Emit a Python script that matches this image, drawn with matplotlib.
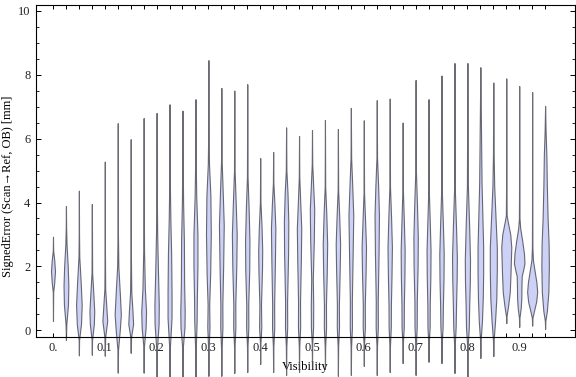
import numpy as np
import matplotlib
matplotlib.use("Agg")
import matplotlib.pyplot as plt

plt.rcParams["font.family"] = ["Liberation Serif", "DejaVu Serif"]

# violin centres (visibility bins)
visibility = [0.0, 0.025, 0.05, 0.075, 0.1, 0.125, 0.15, 0.175, 0.2, 0.225,
              0.25, 0.275, 0.3, 0.325, 0.35, 0.375, 0.4, 0.425, 0.45, 0.475,
              0.5, 0.525, 0.55, 0.575, 0.6, 0.625, 0.65, 0.675, 0.7, 0.725,
              0.75, 0.775, 0.8, 0.825, 0.85, 0.875, 0.9, 0.925, 0.95]

# per-violin density outline: (signed error [mm], relative density)
profiles = [
    [(0.30, 0), (1.2, 0.04), (1.5, 0.25), (1.85, 0.4), (2.2, 0.25), (2.5, 0.04), (2.93, 0)],
    [(-0.30, 0), (0.2, 0.08), (0.8, 0.4), (1.4, 0.48), (2.0, 0.36), (2.7, 0.12), (3.2, 0.04), (3.89, 0)],
    [(-0.78, 0), (-0.3, 0.04), (0.2, 0.42), (0.8, 0.56), (1.5, 0.36), (2.3, 0.08), (3.0, 0.03), (4.37, 0)],
    [(-0.76, 0), (-0.3, 0.04), (0.2, 0.4), (0.6, 0.48), (1.2, 0.28), (1.8, 0.06), (3.95, 0)],
    [(-0.79, 0), (-0.2, 0.08), (0.3, 0.48), (0.7, 0.32), (1.3, 0.08), (2.5, 0.03), (5.28, 0)],
    [(-1.32, 0), (-0.6, 0.06), (0.0, 0.4), (0.5, 0.62), (1.2, 0.4), (2.0, 0.12), (3.0, 0.04), (6.48, 0)],
    [(-0.70, 0), (-0.2, 0.08), (0.2, 0.48), (0.6, 0.36), (1.2, 0.12), (2.5, 0.03), (5.98, 0)],
    [(-1.32, 0), (-0.5, 0.06), (0.1, 0.4), (0.6, 0.48), (1.3, 0.24), (2.5, 0.08), (4.0, 0.03), (6.64, 0)],
    [(-1.50, 0), (-0.6, 0.06), (0.2, 0.4), (0.8, 0.44), (1.8, 0.28), (3.0, 0.12), (4.5, 0.03), (6.80, 0)],
    [(-1.50, 0), (-0.5, 0.08), (0.4, 0.4), (1.2, 0.4), (2.4, 0.32), (3.5, 0.16), (5.0, 0.03), (7.07, 0)],
    [(-1.50, 0), (-0.5, 0.08), (0.1, 0.4), (0.6, 0.44), (1.5, 0.32), (2.8, 0.28), (4.0, 0.12), (5.5, 0.03), (6.87, 0)],
    [(-1.50, 0), (-0.5, 0.08), (0.3, 0.24), (1.0, 0.28), (2.0, 0.4), (3.0, 0.4), (4.2, 0.16), (5.5, 0.03), (7.23, 0)],
    [(-1.42, 0), (-0.6, 0.05), (0.1, 0.22), (0.8, 0.16), (1.8, 0.36), (3.0, 0.48), (4.2, 0.4), (5.2, 0.12), (6.2, 0.03), (8.45, 0)],
    [(-1.42, 0), (-0.6, 0.05), (0.1, 0.22), (0.8, 0.2), (2.0, 0.36), (3.3, 0.48), (4.3, 0.28), (5.3, 0.06), (7.58, 0)],
    [(-1.33, 0), (-0.5, 0.05), (0.1, 0.22), (0.8, 0.2), (2.0, 0.4), (3.0, 0.48), (4.0, 0.28), (5.0, 0.06), (7.50, 0)],
    [(-1.30, 0), (-0.5, 0.05), (0.1, 0.22), (0.8, 0.2), (1.9, 0.4), (2.8, 0.44), (3.8, 0.28), (4.8, 0.06), (7.70, 0)],
    [(-1.05, 0), (-0.4, 0.05), (0.1, 0.22), (0.8, 0.16), (1.9, 0.36), (2.5, 0.4), (3.2, 0.28), (4.0, 0.06), (5.39, 0)],
    [(-1.30, 0), (-0.5, 0.05), (0.1, 0.22), (0.8, 0.2), (2.2, 0.36), (3.2, 0.44), (4.0, 0.24), (4.6, 0.05), (5.58, 0)],
    [(-1.39, 0), (-0.5, 0.05), (0.1, 0.22), (0.9, 0.2), (2.4, 0.4), (3.4, 0.44), (4.3, 0.28), (5.0, 0.06), (6.35, 0)],
    [(-1.30, 0), (-0.5, 0.05), (0.1, 0.22), (0.9, 0.2), (2.2, 0.36), (3.2, 0.44), (4.0, 0.24), (4.8, 0.05), (6.08, 0)],
    [(-1.14, 0), (-0.4, 0.05), (0.1, 0.22), (0.8, 0.24), (1.6, 0.16), (2.8, 0.36), (3.8, 0.44), (4.5, 0.24), (5.2, 0.05), (6.26, 0)],
    [(-1.20, 0), (-0.5, 0.05), (0.1, 0.22), (0.8, 0.2), (1.8, 0.36), (2.7, 0.44), (3.6, 0.28), (4.5, 0.05), (6.58, 0)],
    [(-1.42, 0), (-0.5, 0.05), (0.1, 0.22), (0.8, 0.2), (1.9, 0.36), (2.7, 0.44), (3.5, 0.28), (4.4, 0.05), (6.30, 0)],
    [(-1.39, 0), (-0.5, 0.05), (0.1, 0.22), (0.9, 0.2), (2.4, 0.36), (3.6, 0.48), (4.5, 0.28), (5.4, 0.06), (6.96, 0)],
    [(-1.11, 0), (-0.4, 0.05), (0.1, 0.22), (0.8, 0.2), (1.8, 0.36), (2.6, 0.44), (3.5, 0.24), (4.3, 0.05), (6.57, 0)],
    [(-1.39, 0), (-0.5, 0.05), (0.1, 0.22), (0.9, 0.2), (2.4, 0.36), (3.6, 0.44), (4.5, 0.28), (5.4, 0.06), (7.20, 0)],
    [(-1.30, 0), (-0.5, 0.05), (0.1, 0.22), (0.8, 0.24), (1.7, 0.36), (2.6, 0.44), (3.5, 0.28), (4.5, 0.06), (7.25, 0)],
    [(-1.02, 0), (-0.4, 0.05), (0.1, 0.22), (0.8, 0.24), (1.7, 0.36), (2.5, 0.4), (3.4, 0.24), (4.4, 0.05), (6.50, 0)],
    [(-1.39, 0), (-0.5, 0.05), (0.1, 0.22), (0.9, 0.24), (2.0, 0.4), (2.9, 0.44), (3.9, 0.28), (5.0, 0.06), (7.83, 0)],
    [(-0.98, 0), (-0.4, 0.05), (0.1, 0.22), (0.8, 0.24), (1.7, 0.36), (2.5, 0.4), (3.4, 0.24), (4.4, 0.05), (7.23, 0)],
    [(-1.02, 0), (-0.4, 0.05), (0.1, 0.22), (0.8, 0.28), (1.6, 0.4), (2.4, 0.44), (3.3, 0.28), (4.4, 0.06), (7.97, 0)],
    [(-1.33, 0), (-0.5, 0.05), (0.1, 0.24), (0.8, 0.32), (1.6, 0.44), (2.3, 0.48), (3.2, 0.32), (4.4, 0.08), (8.36, 0)],
    [(-1.45, 0), (-0.5, 0.05), (0.1, 0.28), (0.8, 0.36), (1.5, 0.48), (2.2, 0.52), (3.2, 0.36), (4.5, 0.1), (8.36, 0)],
    [(-0.86, 0), (-0.3, 0.06), (0.3, 0.32), (1.0, 0.48), (1.8, 0.56), (2.6, 0.56), (3.6, 0.4), (4.6, 0.24), (5.8, 0.16), (7.0, 0.08), (8.23, 0)],
    [(-0.80, 0), (-0.3, 0.07), (0.3, 0.35), (1.0, 0.6), (1.9, 0.7), (2.6, 0.7), (3.5, 0.45), (4.5, 0.18), (5.5, 0.07), (7.75, 0)],
    [(0.23, 0), (0.45, 0.05), (0.75, 0.35), (1.2, 0.7), (1.8, 0.85), (2.6, 1.0), (3.0, 0.8), (3.4, 0.3), (3.6, 0.08), (4.5, 0.03), (7.88, 0)],
    [(0.11, 0), (0.4, 0.05), (0.7, 0.3), (1.0, 0.42), (1.4, 0.45), (1.7, 0.5), (1.9, 0.8), (2.1, 1.05), (2.4, 0.95), (2.8, 0.6), (3.2, 0.2), (3.5, 0.06), (4.5, 0.03), (7.64, 0)],
    [(0.15, 0), (0.4, 0.06), (0.6, 0.35), (0.9, 0.8), (1.2, 1.0), (1.5, 0.85), (1.9, 0.45), (2.2, 0.15), (2.6, 0.05), (3.5, 0.03), (7.45, 0)],
    [(0.05, 0), (0.3, 0.05), (0.6, 0.35), (1.2, 0.65), (2.0, 0.75), (2.7, 0.7), (3.5, 0.5), (4.5, 0.35), (5.5, 0.25), (6.2, 0.1), (7.02, 0)],
]

label_at = [0.0, 0.1, 0.2, 0.3, 0.4, 0.5, 0.6, 0.7, 0.8, 0.9]
label_text = ["0.", "0.1", "0.2", "0.3", "0.4", "0.5", "0.6", "0.7", "0.8", "0.9"]

HALF_W = 0.0097          # half-width (data units) of a density of 1
FILL = (0.80, 0.82, 0.96)
EDGE = (0.28, 0.28, 0.32, 0.8)

fig = plt.figure(figsize=(5.76, 3.77), dpi=100)
ax = fig.add_axes([36 / 576, 0, 539 / 576, 372.5 / 377])

for x, prof in zip(visibility, profiles):
    y = np.array([p[0] for p in prof])
    d = np.array([p[1] for p in prof]) * HALF_W
    ax.fill_betweenx(y, x - d, x + d, facecolor=FILL, edgecolor=EDGE, lw=0.8, zorder=2)

ax.set_xlim(-0.0328, 1.0077)
ax.set_ylim(-1.455, 10.19)

# Mathematica-like frame: axis line at the bottom, frame left/top/right
ax.spines["bottom"].set_position(("data", -0.2))
ax.spines["left"].set_bounds(-0.2, 10.19)
ax.spines["right"].set_bounds(-0.2, 10.19)
for s in ax.spines.values():
    s.set_linewidth(0.8)
    s.set_zorder(3)

ticklabels = []
for v in visibility:
    hit = [t for a, t in zip(label_at, label_text) if np.isclose(v, a)]
    ticklabels.append(hit[0] if hit else "")
ax.set_xticks(visibility)
ax.set_xticklabels(ticklabels)
ax.set_yticks([0, 2, 4, 6, 8, 10])
ax.set_yticks([0.5, 1, 1.5, 2.5, 3, 3.5, 4.5, 5, 5.5, 6.5, 7, 7.5, 8.5, 9, 9.5], minor=True)

ax.tick_params(axis="x", which="major", direction="in", length=3.2, width=0.7,
               top=True, bottom=True, labelsize=9, pad=4, labelcolor="#222222")
ax.tick_params(axis="y", which="major", direction="in", length=3.4, width=0.7,
               left=True, right=True, labelsize=9, pad=4, labelcolor="#222222")
ax.tick_params(axis="y", which="minor", direction="in", length=1.9, width=0.6,
               left=True, right=True)

ax.set_xlabel("Visibility", fontsize=9)
ax.xaxis.set_label_coords(0.5, 0.042)
ax.set_ylabel("SignedError (Scan\u2192Ref, OB) [mm]", fontsize=9)
ax.yaxis.set_label_coords(-0.040, 0.513)

fig.savefig("out.png", dpi=100)
